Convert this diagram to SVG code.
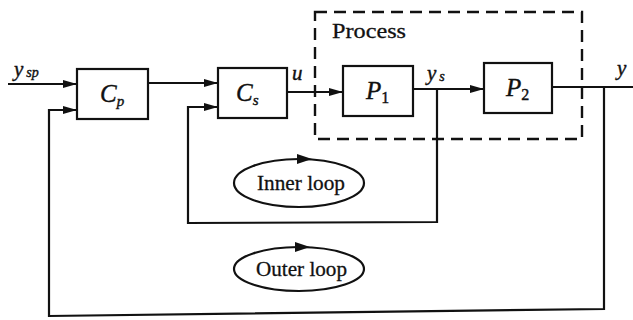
<svg xmlns="http://www.w3.org/2000/svg" width="633" height="320" viewBox="0 0 633 320">
<style>
.box{fill:#fff;stroke:#111;stroke-width:2.2}
.ln{fill:none;stroke:#111;stroke-width:2.2}
.dash{fill:none;stroke:#111;stroke-width:2.4;stroke-dasharray:12 7}
.m{font-family:"Liberation Serif",serif;font-style:italic;fill:#111;stroke:#111;stroke-width:0.4}
.t{font-family:"Liberation Serif",serif;fill:#111;stroke:#111;stroke-width:0.3}
</style>
<defs>
<marker id="ah" viewBox="0 0 14 8" refX="14" refY="4" markerWidth="14" markerHeight="8" markerUnits="userSpaceOnUse" orient="auto">
<path d="M0,0 L14,4 L0,8 Z" fill="#111"/>
</marker>
</defs>
<rect width="633" height="320" fill="#fff"/>
<g id="connectors">
<line class="ln" x1="8" y1="84" x2="77" y2="84" marker-end="url(#ah)"/>
<line class="ln" x1="148" y1="83" x2="218" y2="83" marker-end="url(#ah)"/>
<line class="ln" x1="287" y1="92" x2="343" y2="92" marker-end="url(#ah)"/>
<line class="ln" x1="413" y1="89" x2="484" y2="89" marker-end="url(#ah)"/>
<line class="ln" x1="552" y1="87" x2="633" y2="87"/>
<polyline class="ln" points="437,89 437,222 188,223 188,107 218,107" marker-end="url(#ah)"/>
<polyline class="ln" points="604,87 604,309 49,316 49,110 77,110" marker-end="url(#ah)"/>
</g>
<g id="process">
<rect class="dash" x="315" y="12" width="267" height="127"/>
<text class="t" x="332" y="38" font-size="21" textLength="74" lengthAdjust="spacingAndGlyphs">Process</text>
</g>
<g id="Cp">
<rect class="box" x="77" y="69" width="71" height="50"/>
<text class="m" x="100" y="102" font-size="25">C<tspan font-size="15" dy="4">p</tspan></text>
</g>
<g id="Cs">
<rect class="box" x="218" y="68" width="69" height="50"/>
<text class="m" x="236" y="101" font-size="25">C<tspan font-size="15" dy="4">s</tspan></text>
</g>
<g id="P1">
<rect class="box" x="343" y="66" width="70" height="50"/>
<text class="m" x="366" y="99" font-size="25">P<tspan font-style="normal" font-size="16" dy="4">1</tspan></text>
</g>
<g id="P2">
<rect class="box" x="484" y="63" width="68" height="50"/>
<text class="m" x="506" y="96" font-size="25">P<tspan font-style="normal" font-size="16" dy="4">2</tspan></text>
</g>
<g id="labels">
<text class="m" x="14" y="76" font-size="21">y<tspan font-size="14" dx="3" dy="1">sp</tspan></text>
<text class="m" x="292" y="80" font-size="21">u</text>
<text class="m" x="427" y="80" font-size="21">y<tspan font-size="14" dx="3" dy="1">s</tspan></text>
<text class="m" x="617" y="75" font-size="21">y</text>
</g>
<g id="inner-loop">
<ellipse class="ln" cx="299" cy="183" rx="65" ry="24"/>
<path d="M297,154 L312,159 L297,164 Z" fill="#111"/>
<text class="t" x="257" y="190" font-size="21" textLength="88" lengthAdjust="spacingAndGlyphs">Inner loop</text>
</g>
<g id="outer-loop">
<ellipse class="ln" cx="299" cy="269" rx="65" ry="22"/>
<path d="M295,242 L310,247 L295,252 Z" fill="#111"/>
<text class="t" x="256" y="276" font-size="21" textLength="91" lengthAdjust="spacingAndGlyphs">Outer loop</text>
</g>
</svg>
